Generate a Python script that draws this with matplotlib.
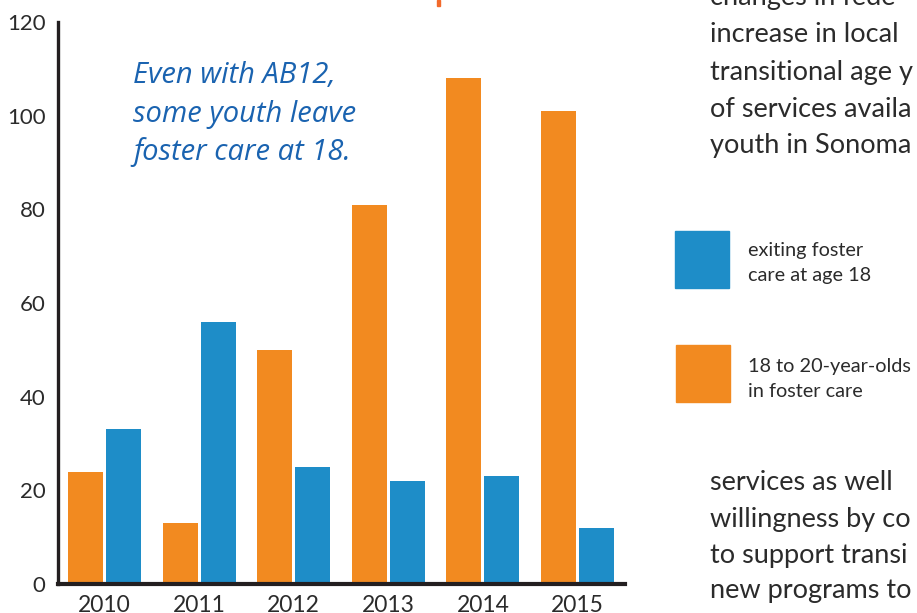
import matplotlib
matplotlib.use("Agg")
import matplotlib.pyplot as plt
from matplotlib.patches import Rectangle
import numpy as np

years = ["2010", "2011", "2012", "2013", "2014", "2015"]
older_in_care = [24, 13, 50, 81, 108, 101]   # 18 to 20-year-olds in foster care (orange)
exiting_at_18 = [33, 56, 25, 22, 23, 12]      # exiting foster care at age 18 (blue)
yticks = [0, 20, 40, 60, 80, 100, 120]

ORANGE = "#F28A20"
BLUE = "#1E8DC8"
INK = "#231F20"
TEXT = "#2B2B2B"

W, H = 917, 613
fig = plt.figure(figsize=(W / 100, H / 100), dpi=100)
fig.patch.set_facecolor("white")

def fx(px):
    return px / W

def fy(py):
    return 1 - py / H

ax = fig.add_axes([fx(58), fy(584), fx(625) - fx(58), fy(22) - fy(584)])
x = np.arange(len(years))
bw = 0.37
off = 0.2008
ax.bar(x - off, older_in_care, width=bw, color=ORANGE, zorder=2)
ax.bar(x + off, exiting_at_18, width=bw, color=BLUE, zorder=2)

ax.set_xlim(-0.4915, 5.502)
ax.set_ylim(0, 120)
ax.set_yticks(yticks)
ax.set_yticklabels([str(v) for v in yticks])
ax.set_xticks(x)
ax.set_xticklabels(years)
for s in ["top", "right"]:
    ax.spines[s].set_visible(False)
ax.spines["left"].set_linewidth(2.4)
ax.spines["left"].set_color(INK)
ax.spines["bottom"].set_linewidth(3.0)
ax.spines["bottom"].set_color(INK)
ax.spines["bottom"].set_zorder(3)
ax.tick_params(axis="both", length=0, labelsize=16, labelcolor=TEXT)
ax.tick_params(axis="x", labelsize=16.5)
ax.tick_params(axis="y", pad=9)
ax.tick_params(axis="x", pad=8)
for lbl in ax.get_xticklabels() + ax.get_yticklabels():
    lbl.set_fontfamily("Lato")

# annotation inside the chart
note = ["Even with AB12,", "some youth leave", "foster care at 18."]
for line, base in zip(note, [83, 122, 160]):
    fig.text(fx(133), fy(base), line, fontsize=21, color="#1A63B0",
             family="Open Sans", style="italic", va="baseline", ha="left")

# legend
fig.patches.append(Rectangle((fx(675), fy(288)), fx(729) - fx(675), fy(231) - fy(288),
                             transform=fig.transFigure, color=BLUE, figure=fig))
fig.patches.append(Rectangle((fx(676), fy(402)), fx(730) - fx(676), fy(345) - fy(402),
                             transform=fig.transFigure, color=ORANGE, figure=fig))
legend_lines = [("exiting foster", 256), ("care at age 18", 281),
                ("18 to 20-year-olds", 372), ("in foster care", 397)]
for line, base in legend_lines:
    fig.text(fx(748), fy(base), line, fontsize=14.3, color=TEXT, family="Lato",
             va="baseline", ha="left")

# surrounding body text (cropped)
body_top = [("changes in fede", 5), ("increase in local", 42), ("transitional age y", 80),
            ("of services availa", 117), ("youth in Sonoma", 153)]
body_bottom = [("services as well", 490), ("willingness by co", 527),
               ("to support transi", 563), ("new programs to", 598)]
for line, base in body_top + body_bottom:
    fig.text(fx(710), fy(base), line, fontsize=19.5, color=TEXT, family="Lato",
             va="baseline", ha="left")

# fragment of cropped heading
fig.patches.append(Rectangle((fx(437), fy(6)), fx(3), fy(0) - fy(6),
                             transform=fig.transFigure, color="#F26A2B", figure=fig))

fig.savefig("out.png", dpi=100)
